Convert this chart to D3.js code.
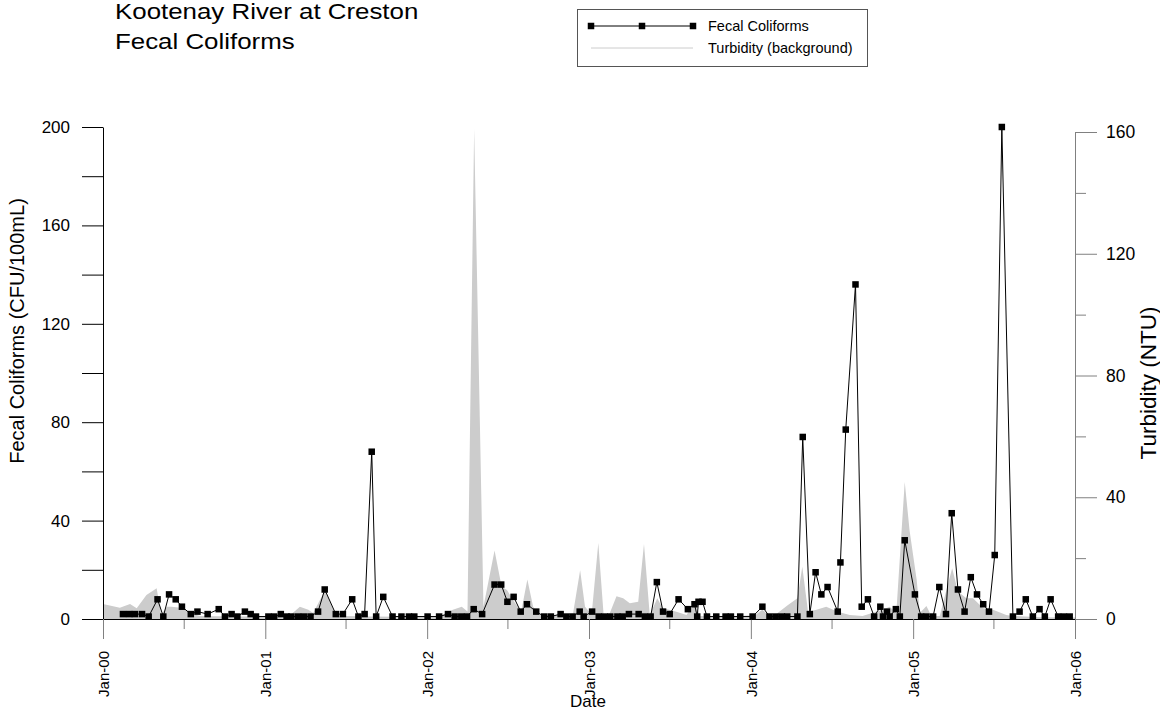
<!DOCTYPE html>
<html>
<head>
<meta charset="utf-8">
<script src="https://cdn.jsdelivr.net/npm/d3@7"></script>
<style>
  body { margin: 0; background: #fff; }
  text { font-family: "Liberation Sans", Arial, sans-serif; fill: #000; }
</style>
</head>
<body>
<div id="graph"></div>
<script>
// fecal coliform samples (CFU/100mL)
var fecalDates = [
  "2000-02-15","2000-02-29","2000-03-13","2000-03-29","2000-04-13","2000-05-03","2000-05-16","2000-05-29","2000-06-13","2000-06-27",
  "2000-07-17","2000-08-01","2000-08-24","2000-09-18","2000-10-02","2000-10-17","2000-10-30","2000-11-16","2000-11-29","2000-12-11",
  "2001-01-08","2001-01-21","2001-02-05","2001-02-18","2001-03-01","2001-03-16","2001-03-29","2001-04-13","2001-04-30","2001-05-15",
  "2001-06-09","2001-06-25","2001-07-16","2001-07-30","2001-08-13","2001-08-29","2001-09-08","2001-09-24","2001-10-15","2001-11-04",
  "2001-11-21","2001-12-03",
  "2002-01-02","2002-01-28","2002-02-17","2002-03-04","2002-03-19","2002-04-01","2002-04-16","2002-05-05","2002-06-02","2002-06-17",
  "2002-07-01","2002-07-15","2002-07-31","2002-08-14","2002-09-04","2002-09-22","2002-10-07","2002-10-29","2002-11-11","2002-11-25",
  "2002-12-11","2002-12-20",
  "2003-01-08","2003-01-23","2003-02-05","2003-02-18","2003-03-06","2003-03-18","2003-04-01","2003-04-23","2003-05-07","2003-05-20",
  "2003-06-03","2003-06-17","2003-07-02","2003-07-22","2003-08-12","2003-08-27","2003-09-02","2003-09-05","2003-09-14","2003-09-24",
  "2003-10-15","2003-11-05","2003-11-17","2003-12-08",
  "2004-01-05","2004-01-27","2004-02-12","2004-02-26","2004-03-11","2004-03-23","2004-04-15","2004-04-27","2004-05-13","2004-05-26",
  "2004-06-08","2004-06-22","2004-07-15","2004-07-21","2004-08-02","2004-08-24","2004-09-07","2004-09-21","2004-10-05","2004-10-19",
  "2004-10-25","2004-11-03","2004-11-09","2004-11-23","2004-12-02","2004-12-13",
  "2005-01-05","2005-01-19","2005-01-31","2005-02-15","2005-03-01","2005-03-16","2005-03-29","2005-04-12","2005-04-27","2005-05-11",
  "2005-05-25","2005-06-08","2005-06-21","2005-07-04","2005-07-20","2005-08-14","2005-08-29","2005-09-12","2005-09-28","2005-10-13",
  "2005-10-25","2005-11-07","2005-11-24","2005-12-07","2005-12-20"
];
var fecalValues = [
  2,2,2,2,1,8,1,10,8,5, 2,3,2,4,1,2,1,3,2,1,
  1,1,2,1,1,1,1,1,3,12, 2,2,8,1,2,68,1,9,1,1, 1,1,
  1,1,2,1,1,1,4,2,14,14, 7,9,3,6,3,1,1,2,1,1, 3,1,
  3,1,1,1,1,1,2,2,1,1, 15,3,2,8,4,6,1,7,7,1, 1,1,1,1,
  1,5,1,1,1,1,1,74,2,19, 10,13,3,23,77,136,5,8,1,5, 1,3,1,4,1,32,
  10,1,1,1,13,2,43,12,3,17, 10,6,3,26,200,1,3,8,1,4, 1,8,1,1,1
];

// turbidity (NTU), drawn as the grey background area
var turbDates = [
  "2000-01-01","2000-02-08","2000-03-02","2000-03-17","2000-04-08","2000-05-01","2000-05-11","2000-05-24","2000-06-04","2000-06-29",
  "2000-07-15","2000-08-07","2000-11-05",
  "2001-01-12","2001-02-26","2001-03-20","2001-04-08","2001-04-19","2001-05-16","2001-06-07","2001-06-30","2001-08-25","2001-11-01",
  "2002-01-30","2002-02-28","2002-03-20","2002-04-02","2002-04-17","2002-05-08","2002-06-02","2002-06-18","2002-06-30","2002-07-14",
  "2002-08-01","2002-08-15","2002-08-28","2002-09-12","2002-10-28","2002-11-26","2002-12-12","2002-12-23",
  "2003-01-07","2003-01-22","2003-02-03","2003-02-17","2003-03-04","2003-03-19","2003-04-03","2003-04-22","2003-05-05","2003-05-18",
  "2003-06-04","2003-06-16","2003-07-17","2003-08-09","2003-08-28","2003-09-08","2003-11-15",
  "2004-01-10","2004-01-27","2004-02-12","2004-02-26","2004-03-24","2004-04-15","2004-04-26","2004-05-09","2004-05-28","2004-06-19",
  "2004-07-15","2004-08-11","2004-09-09","2004-10-24","2004-11-09","2004-11-24","2004-12-13","2004-12-24",
  "2005-01-09","2005-01-16","2005-01-31","2005-02-11","2005-03-02","2005-03-17","2005-03-30","2005-04-12","2005-05-01","2005-05-16",
  "2005-06-08","2005-06-30","2005-07-30","2005-08-13","2005-10-13","2006-01-01"
];
var turbValues = [
  4.9,3.7,4.9,3.5,7.9,10.1,1.5,4,4,3.6, 1.9,1,0.8,
  1,1.2,4,3,2,9.5,1.9,1,0.8,0.7,
  1,3,4,2.5,161,4,22.5,10.6,9.5,6.2, 2.4,13,4,1.3,1.3,1.8,16,4,
  1.5,25,1.3,2,7.5,6.8,5.2,5.7,24.6,1.3, 6.8,3.6,2.4,1.3,5.7,1,0.8,
  1.2,3,1,1.5,4.5,6.8,17.2,2.4,3,4, 2.4,1.3,1,3,4,2,45,29,
  12.8,2,4.3,1,1,9.5,16.7,9,6.8,6.8, 3.5,3,1.3,1,0.6,0.5
];

var rightTicks = [0, 40, 80, 120, 160];
var yearTicks = ["2000-01-01","2001-01-01","2002-01-01","2003-01-01","2004-01-01","2005-01-01","2006-01-01"];
var yearLabels = ["Jan-00","Jan-01","Jan-02","Jan-03","Jan-04","Jan-05","Jan-06"];

var parse = d3.timeParse("%Y-%m-%d");
var fecal = fecalDates.map(function(d, i) { return { date: parse(d), value: fecalValues[i] }; });
var turb = turbDates.map(function(d, i) { return { date: parse(d), value: turbValues[i] }; });
var years = yearTicks.map(parse);

var svg = d3.select("#graph")
  .append("svg")
    .attr("width", 1160)
    .attr("height", 713);

// scales
var x = d3.scaleTime().domain([parse("2000-01-01"), parse("2006-01-01")]).range([103, 1075]);
var yL = d3.scaleLinear().domain([0, 200]).range([619, 127]);
var yR = d3.scaleLinear().domain([0, 160]).range([619, 132]);

// turbidity area in the background
svg.append("path")
  .datum(turb)
  .attr("fill", "#cccccc")
  .attr("stroke", "none")
  .attr("d", d3.area()
    .x(function(d) { return x(d.date); })
    .y0(yR(0))
    .y1(function(d) { return yR(d.value); }));

// left axis
var left = svg.append("g")
  .attr("transform", "translate(103,0)")
  .call(d3.axisLeft(yL)
    .tickValues(d3.range(0, 201, 20))
    .tickSize(21).tickSizeOuter(0).tickPadding(12)
    .tickFormat(function(d) { return d % 40 === 0 ? d : ""; }));
left.selectAll("text").style("font-size", "17px").style("font-family", "Liberation Sans, Arial, sans-serif");
left.selectAll("line, path").attr("stroke", "#000");

// right axis (major + minor ticks)
var right = svg.append("g")
  .attr("transform", "translate(1075,0)")
  .call(d3.axisRight(yR)
    .tickValues(rightTicks)
    .tickSize(22).tickSizeOuter(0).tickPadding(9));
right.selectAll("text").style("font-size", "17.5px").style("font-family", "Liberation Sans, Arial, sans-serif");
right.selectAll("line, path").attr("stroke", "#808080");
svg.append("g")
  .attr("transform", "translate(1075,0)")
  .call(d3.axisRight(yR).tickValues([20, 60, 100, 140]).tickSize(11).tickSizeOuter(0).tickFormat(""))
  .selectAll("line, path").attr("stroke", "#808080");

// bottom axis: half-year minor ticks, then years
svg.append("g")
  .attr("transform", "translate(0,619)")
  .call(d3.axisBottom(x).tickValues(years.slice(0, 6).map(function(d) { return d3.timeMonth.offset(d, 6); }))
    .tickSize(10).tickSizeOuter(0).tickFormat(""))
  .selectAll("line, path").attr("stroke", "#808080");
var bottom = svg.append("g")
  .attr("transform", "translate(0,619)")
  .call(d3.axisBottom(x).tickValues(years)
    .tickSize(20).tickSizeOuter(0)
    .tickFormat(function(d, i) { return yearLabels[i]; }));
bottom.selectAll("line").attr("stroke", "#808080");
bottom.select(".domain").attr("stroke", "#000");
bottom.selectAll("text")
  .style("font-size", "15px")
  .style("font-family", "Liberation Sans, Arial, sans-serif")
  .attr("text-anchor", "end")
  .attr("transform", "translate(0,32) rotate(-90)")
  .attr("x", 0).attr("y", 0).attr("dy", "0.35em");

// fecal coliform line + square markers
svg.append("path")
  .datum(fecal)
  .attr("fill", "none")
  .attr("stroke", "#000")
  .attr("stroke-width", 1)
  .attr("d", d3.line()
    .x(function(d) { return x(d.date); })
    .y(function(d) { return yL(d.value); }));
svg.selectAll(".pt")
  .data(fecal)
  .enter().append("rect")
    .attr("class", "pt")
    .attr("x", function(d) { return x(d.date) - 3.25; })
    .attr("y", function(d) { return yL(d.value) - 3.25; })
    .attr("width", 6.5)
    .attr("height", 6.5)
    .attr("fill", "#000");

// axis titles
svg.append("text")
  .attr("transform", "translate(24,331) rotate(-90)")
  .attr("text-anchor", "middle")
  .style("font-size", "20px")
  .text("Fecal Coliforms (CFU/100mL)");
svg.append("text")
  .attr("transform", "translate(1156,383) rotate(-90)")
  .attr("text-anchor", "middle")
  .style("font-size", "22.5px")
  .text("Turbidity (NTU)");
svg.append("text")
  .attr("x", 588).attr("y", 707)
  .attr("text-anchor", "middle")
  .style("font-size", "17px")
  .text("Date");

// title (slightly wide lettering, as in the original)
svg.append("text").attr("transform", "translate(115,19) scale(1.15,1)").style("font-size", "22.5px").text("Kootenay River at Creston");
svg.append("text").attr("transform", "translate(115,49) scale(1.15,1)").style("font-size", "22.5px").text("Fecal Coliforms");

// legend
var legend = svg.append("g");
legend.append("rect")
  .attr("x", 577.5).attr("y", 9.5).attr("width", 290).attr("height", 57)
  .attr("fill", "#fff").attr("stroke", "#555");
legend.append("line")
  .attr("x1", 591).attr("x2", 693).attr("y1", 26).attr("y2", 26)
  .attr("stroke", "#000").attr("stroke-width", 1);
legend.selectAll(".lpt")
  .data([591, 642, 693])
  .enter().append("rect")
    .attr("x", function(d) { return d - 3.25; })
    .attr("y", 22.75).attr("width", 6.5).attr("height", 6.5).attr("fill", "#000");
legend.append("line")
  .attr("x1", 591).attr("x2", 693).attr("y1", 48).attr("y2", 48)
  .attr("stroke", "#cccccc").attr("stroke-width", 1);
legend.append("text").attr("x", 708).attr("y", 31).style("font-size", "14.5px").text("Fecal Coliforms");
legend.append("text").attr("x", 708).attr("y", 53).style("font-size", "14.5px").text("Turbidity (background)");
</script>
</body>
</html>
